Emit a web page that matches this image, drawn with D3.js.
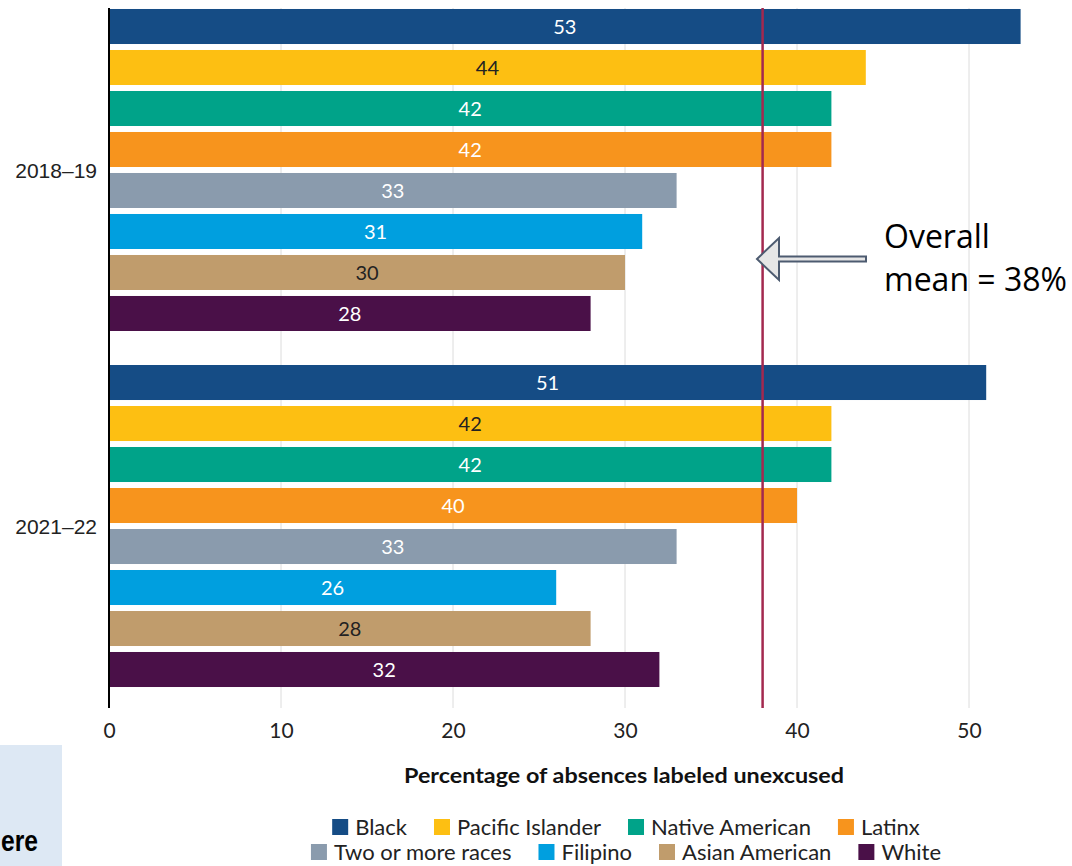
<!DOCTYPE html>
<html>
<head>
<meta charset="utf-8">
<script src="https://cdn.jsdelivr.net/npm/d3@7"></script>
<style>
  body { margin: 0; background: #fff; }
  svg { display: block; font-family: Lato, "Open Sans", sans-serif; }
</style>
</head>
<body>
<div id="container"></div>
<script>
/* DATA */
const years = ["2018–19", "2021–22"]
const groups = ["Black", "Pacific Islander", "Native American", "Latinx",
  "Two or more races", "Filipino", "Asian American", "White"]
const values2018 = [53, 44, 42, 42, 33, 31, 30, 28]
const values2021 = [51, 42, 42, 40, 33, 26, 28, 32]
const xTicks = [0, 10, 20, 30, 40, 50]
const overallMean = 38
const colors = ["#154c85", "#fdbf12", "#00a389", "#f7941d",
  "#8a9bad", "#009fdf", "#c09c6c", "#4a1048"]
const darkLabel = ["Pacific Islander", "Asian American"]

const rows = [
  ...groups.map((g, i) => ({ year: years[0], group: g, value: values2018[i] })),
  ...groups.map((g, i) => ({ year: years[1], group: g, value: values2021[i] })),
]

/* CONSTANTS */
const width = 1072, height = 866
const plotTop = 8, plotBottom = 708

const svg = d3.select("#container")
  .append("svg")
  .attr("width", width)
  .attr("height", height)

// SCALES
const x = d3.scaleLinear().domain([0, 55]).range([109, 109 + 55 * 17.2])

const yOuter = d3.scaleBand()
  .domain(years)
  .range([6, 690])
  .paddingInner(0.0787)
  .paddingOuter(0)

const yInner = d3.scaleBand()
  .domain(groups)
  .range([0, yOuter.bandwidth()])
  .paddingInner(0.146)
  .paddingOuter(0.073)

const color = d3.scaleOrdinal().domain(groups).range(colors)

// GRIDLINES
svg.selectAll("line.grid")
  .data(xTicks.slice(1))
  .join("line")
  .attr("class", "grid")
  .attr("x1", d => x(d))
  .attr("x2", d => x(d))
  .attr("y1", plotTop)
  .attr("y2", plotBottom)
  .attr("stroke", "#dcdcdc")
  .attr("stroke-width", 1)

// BARS
svg.selectAll("rect.bar")
  .data(rows)
  .join("rect")
  .attr("class", "bar")
  .attr("x", x(0))
  .attr("y", d => yOuter(d.year) + yInner(d.group))
  .attr("width", d => x(d.value) - x(0))
  .attr("height", yInner.bandwidth())
  .attr("fill", d => color(d.group))

svg.selectAll("text.val")
  .data(rows)
  .join("text")
  .attr("class", "val")
  .attr("x", d => (x(0) + x(d.value)) / 2)
  .attr("y", d => yOuter(d.year) + yInner(d.group) + yInner.bandwidth() / 2)
  .attr("dy", "0.36em")
  .attr("text-anchor", "middle")
  .attr("font-size", 20)
  .attr("fill", d => darkLabel.includes(d.group) ? "#222" : "#fff")
  .text(d => d.value)

// X AXIS
const xAxis = d3.axisBottom(x).tickValues(xTicks).tickSize(0).tickPadding(15)
svg.append("g")
  .attr("transform", `translate(0, ${plotBottom})`)
  .call(xAxis)
  .call(g => g.select(".domain").remove())
  .call(g => g.selectAll("text")
    .attr("font-family", "Lato, sans-serif")
    .attr("font-size", 21)
    .attr("fill", "#222"))

svg.append("text")
  .attr("x", 624)
  .attr("y", 783)
  .attr("text-anchor", "middle")
  .attr("font-size", 21)
  .attr("font-weight", "bold")
  .attr("fill", "#111")
  .attr("textLength", 440)
  .attr("lengthAdjust", "spacingAndGlyphs")
  .text("Percentage of absences labeled unexcused")

// Y AXIS (group labels)
svg.append("line")
  .attr("x1", x(0)).attr("x2", x(0))
  .attr("y1", plotTop).attr("y2", plotBottom)
  .attr("stroke", "#000")
  .attr("stroke-width", 2)

svg.selectAll("text.year")
  .data(years)
  .join("text")
  .attr("class", "year")
  .attr("x", 97)
  .attr("y", d => yOuter(d) + yOuter.bandwidth() / 2)
  .attr("dy", "0.36em")
  .attr("text-anchor", "end")
  .attr("font-family", "'Liberation Sans', Arial, sans-serif")
  .attr("font-size", 21)
  .attr("fill", "#222")
  .text(d => d)

// MEAN LINE
svg.append("line")
  .attr("x1", x(overallMean)).attr("x2", x(overallMean))
  .attr("y1", plotTop).attr("y2", plotBottom)
  .attr("stroke", "#a3294f")
  .attr("stroke-width", 2.5)

// ANNOTATION ARROW
const ay = 259, tip = 757, neck = 779, tail = 866
svg.append("path")
  .attr("d", `M${tip},${ay} L${neck},${ay - 21} L${neck},${ay - 2.5} L${tail},${ay - 2.5}
    L${tail},${ay + 2.5} L${neck},${ay + 2.5} L${neck},${ay + 21} Z`)
  .attr("fill", "#e6e6e6")
  .attr("stroke", "#4d5b70")
  .attr("stroke-width", 2)

const note = svg.append("text")
  .attr("font-family", "'Open Sans', 'Noto Sans', sans-serif")
  .attr("font-size", 32)
  .attr("fill", "#000")
note.append("tspan").attr("x", 884).attr("y", 248).text("Overall")
note.append("tspan").attr("x", 884).attr("y", 291).text(`mean = ${overallMean}%`)

// LEGEND
const legendRows = [groups.slice(0, 4), groups.slice(4)]
const legendY = [827, 852]
legendRows.forEach((items, r) => {
  const g = svg.append("g")
  let cx = 0
  items.forEach(name => {
    const item = g.append("g").attr("transform", `translate(${cx}, 0)`)
    item.append("rect")
      .attr("x", 0).attr("y", -8)
      .attr("width", 16).attr("height", 16)
      .attr("fill", color(name))
    const t = item.append("text")
      .attr("x", 23)
      .attr("dy", "0.36em")
      .attr("font-size", 22)
      .attr("fill", "#222")
      .text(name)
    cx += 23 + t.node().getComputedTextLength() + 27
  })
  const total = cx - 27
  g.attr("transform", `translate(${626 - total / 2}, ${legendY[r]})`)
})

// SIDE BOX (cropped slide element)
svg.append("rect")
  .attr("x", 0).attr("y", 745)
  .attr("width", 62).attr("height", height - 745)
  .attr("fill", "#dde8f4")
svg.append("text")
  .attr("x", 1)
  .attr("y", 851)
  .attr("font-family", "'Liberation Sans', Arial, sans-serif")
  .attr("font-weight", "bold")
  .attr("font-size", 30)
  .attr("fill", "#000")
  .attr("textLength", 37)
  .attr("lengthAdjust", "spacingAndGlyphs")
  .text("ere")
</script>
</body>
</html>
